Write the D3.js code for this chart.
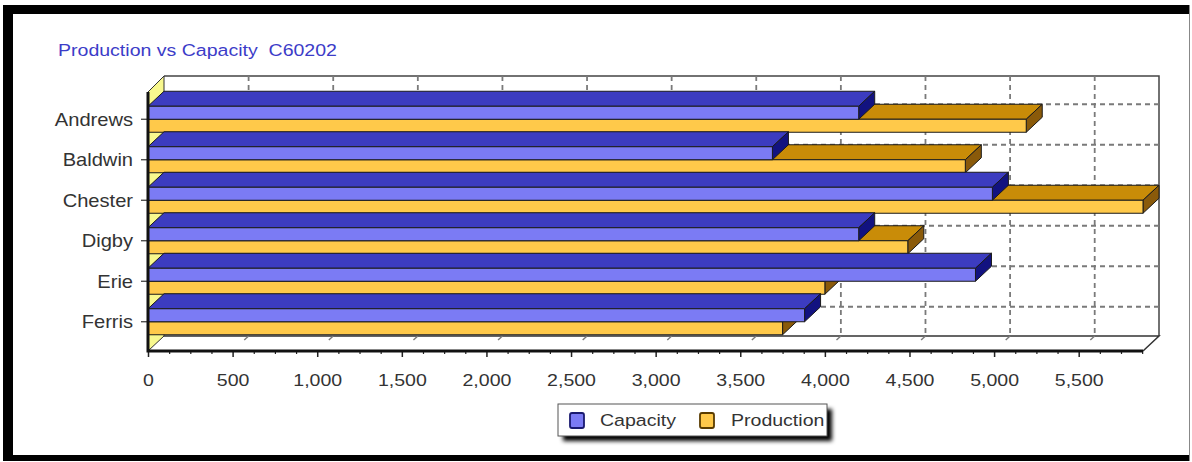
<!DOCTYPE html>
<html><head><meta charset="utf-8">
<script src="https://cdn.jsdelivr.net/npm/d3@7"></script>
<style>
html,body{margin:0;padding:0;background:#fff;}
svg{display:block;font-family:"Liberation Sans",Arial,sans-serif;}
</style></head><body>
<svg id="chart" width="1192" height="462"></svg>
<script>
// ---- data ----
const categories = ["Andrews", "Baldwin", "Chester", "Digby", "Erie", "Ferris"];
const capacity   = [4200, 3690, 4990, 4200, 4890, 3880];
const production = [5190, 4830, 5880, 4490, 4000, 3750];
const seriesNames = ["Capacity", "Production"];
const xTickValues = [0, 500, 1000, 1500, 2000, 2500, 3000, 3500, 4000, 4500, 5000, 5500];
const titleText = "Production vs Capacity  C60202";

// ---- layout ----
const svg = d3.select("#chart");
const plot = {left: 148, right: 1143, top: 92, bottom: 351};
const depth = {dx: 16, dy: 15};
const barH = 13;
const stretchX = 1.15;          // wide face used by the chart text
const fontSize = 17;
const textColor = "#333";

const colors = {
  Capacity:   {front: "#7b7bf4", top: "#3c3cc0", side: "#121280", swatch: "#7b7bf4", edge: "#1a1a70"},
  Production: {front: "#ffc94a", top: "#c98c08", side: "#8a5a0a", swatch: "#ffc94a", edge: "#5a3c00"}
};

const x = d3.scaleLinear()
  .domain([0, d3.max(production.concat(capacity))])
  .range([plot.left, plot.right]);

const y = d3.scaleBand()
  .domain(categories)
  .range([plot.top + 7, plot.bottom - 9]);

const ySeries = d3.scaleBand()
  .domain(seriesNames)
  .range([-barH, barH]);

const rows = categories.map((c, i) => ({category: c, Capacity: capacity[i], Production: production[i]}));
const centre = c => y(c) + y.bandwidth() / 2;

// ---- back wall ----
const back = {left: plot.left + depth.dx, right: plot.right + depth.dx, top: plot.top - depth.dy - 1, bottom: plot.bottom - depth.dy};
svg.append("rect")
  .attr("x", back.left).attr("y", back.top)
  .attr("width", back.right - back.left).attr("height", back.bottom - back.top)
  .attr("fill", "#fff");
svg.append("path")
  .attr("d", `M${back.left},${back.top}H${back.right}V${back.bottom}`)
  .attr("fill", "none").attr("stroke", "#444").attr("stroke-width", 1.5);

// dashed grid on the back wall
const grid = svg.append("g").attr("stroke", "#7a7a7a").attr("stroke-width", 1.8)
  .attr("stroke-dasharray", "5,4").attr("fill", "none");
grid.selectAll("line.v").data(xTickValues.filter(v => v > 0)).join("line")
  .attr("class", "v")
  .attr("x1", d => x(d) + depth.dx).attr("x2", d => x(d) + depth.dx)
  .attr("y1", back.top).attr("y2", back.bottom);
grid.selectAll("line.h").data(categories).join("line")
  .attr("class", "h")
  .attr("x1", back.left).attr("x2", back.right)
  .attr("y1", d => centre(d) - depth.dy).attr("y2", d => centre(d) - depth.dy);

// ---- floor ----
svg.append("path")
  .attr("d", `M${plot.left},${plot.bottom}L${back.left},${back.bottom}H${back.right}L${plot.right},${plot.bottom}Z`)
  .attr("fill", "#fff");
svg.append("path")
  .attr("d", `M${back.left},${back.bottom}H${back.right}L${plot.right},${plot.bottom}`)
  .attr("fill", "none").attr("stroke", "#333").attr("stroke-width", 1.5);
svg.append("g").attr("stroke", "#7a7a7a").attr("stroke-width", 1.4).attr("stroke-dasharray", "6,20")
  .selectAll("line").data(xTickValues.filter(v => v > 0)).join("line")
  .attr("x1", d => x(d) + depth.dx).attr("y1", back.bottom)
  .attr("x2", d => x(d)).attr("y2", plot.bottom);

// ---- left wall ----
svg.append("path")
  .attr("d", `M${plot.left},${plot.top}L${back.left},${back.top}V${back.bottom}L${plot.left},${plot.bottom}Z`)
  .attr("fill", "#f8f88e").attr("stroke", "#333").attr("stroke-width", 1);

// ---- 3D bars ----
const barsG = svg.append("g").attr("stroke", "#1a1a1a").attr("stroke-width", 1).attr("stroke-linejoin", "round");
rows.forEach(r => {
  ["Production", "Capacity"].forEach(s => {
    const x0 = x(0), x1 = x(r[s]);
    const y0 = centre(r.category) + ySeries(s);
    const h = ySeries.bandwidth();
    const g = barsG.append("g");
    const c = colors[s];
    g.append("path")  // top face
      .attr("d", `M${x0},${y0}L${x0 + depth.dx},${y0 - depth.dy}H${x1 + depth.dx}L${x1},${y0}Z`)
      .attr("fill", c.top);
    g.append("path")  // end face
      .attr("d", `M${x1},${y0}L${x1 + depth.dx},${y0 - depth.dy}V${y0 + h - depth.dy}L${x1},${y0 + h}Z`)
      .attr("fill", c.side);
    g.append("rect")  // front face
      .attr("x", x0).attr("y", y0).attr("width", x1 - x0).attr("height", h)
      .attr("fill", c.front);
  });
});

// ---- axes ----
const xAxis = svg.append("g").attr("transform", `translate(0,${plot.bottom})`)
  .call(d3.axisBottom(x).tickValues(xTickValues).tickSize(6).tickPadding(17).tickFormat(d3.format(",")));
xAxis.select(".domain").remove();
xAxis.selectAll(".tick line").attr("stroke", "#222").attr("stroke-width", 1.5);
xAxis.selectAll("text")
  .attr("font-size", fontSize).attr("fill", textColor).attr("font-family", "Liberation Sans, Arial, sans-serif")
  .attr("transform", `scale(${stretchX},1)`);

const xMinor = svg.append("g").attr("transform", `translate(0,${plot.bottom})`)
  .call(d3.axisBottom(x).tickValues(d3.range(125, x.domain()[1], 125).filter(v => v % 500 !== 0)).tickSize(3).tickFormat(""));
xMinor.select(".domain").remove();
xMinor.selectAll(".tick line").attr("stroke", "#222").attr("stroke-width", 1.2);

const yAxis = svg.append("g").attr("transform", `translate(${plot.left},0)`)
  .call(d3.axisLeft(y).tickSize(7).tickPadding(6));
yAxis.select(".domain").remove();
yAxis.selectAll(".tick line").attr("stroke", "#333").attr("stroke-width", 1.2);
yAxis.selectAll("text")
  .attr("font-size", fontSize + 0.5).attr("fill", textColor).attr("font-family", "Liberation Sans, Arial, sans-serif")
  .attr("dy", "0.36em")
  .attr("transform", `scale(${stretchX},1)`);

// heavy front edges of the plot
svg.append("path")
  .attr("d", `M${plot.left},${plot.top}V${plot.bottom}H${plot.right}`)
  .attr("fill", "none").attr("stroke", "#111").attr("stroke-width", 3);

// ---- title ----
svg.append("text")
  .attr("transform", `translate(58,56) scale(${stretchX},1)`)
  .attr("font-size", fontSize).attr("fill", "#3c3cc8")
  .style("white-space", "pre")
  .text(titleText);

// ---- legend ----
const legend = {x: 558, y: 404, w: 269, h: 32};
const defs = svg.append("defs");
const f = defs.append("filter").attr("id", "shadow").attr("x", "-10%").attr("y", "-30%").attr("width", "130%").attr("height", "180%");
f.append("feGaussianBlur").attr("stdDeviation", 2);
svg.append("rect")
  .attr("x", legend.x + 5).attr("y", legend.y + 5).attr("width", legend.w).attr("height", legend.h)
  .attr("fill", "#000").attr("filter", "url(#shadow)");
svg.append("rect")
  .attr("x", legend.x).attr("y", legend.y).attr("width", legend.w).attr("height", legend.h)
  .attr("fill", "#fff").attr("stroke", "#555").attr("stroke-width", 1);
const legendItems = [{name: seriesNames[0], sx: 570, tx: 600}, {name: seriesNames[1], sx: 700, tx: 731}];
legendItems.forEach(d => {
  svg.append("rect")
    .attr("x", d.sx).attr("y", legend.y + 9).attr("width", 14).attr("height", 15).attr("rx", 2)
    .attr("fill", colors[d.name].swatch).attr("stroke", colors[d.name].edge).attr("stroke-width", 1.8);
  svg.append("text")
    .attr("transform", `translate(${d.tx},${legend.y + 22}) scale(${stretchX},1)`)
    .attr("font-size", fontSize).attr("fill", textColor)
    .text(d.name);
});

// ---- outer frame ----
svg.append("path")
  .attr("d", "M3,5H1190V14H13V455H1190V461H3Z")
  .attr("fill", "#000");
svg.append("line").attr("x1", 1189.5).attr("x2", 1189.5).attr("y1", 5).attr("y2", 461)
  .attr("stroke", "#888").attr("stroke-width", 1);
</script>
</body></html>
